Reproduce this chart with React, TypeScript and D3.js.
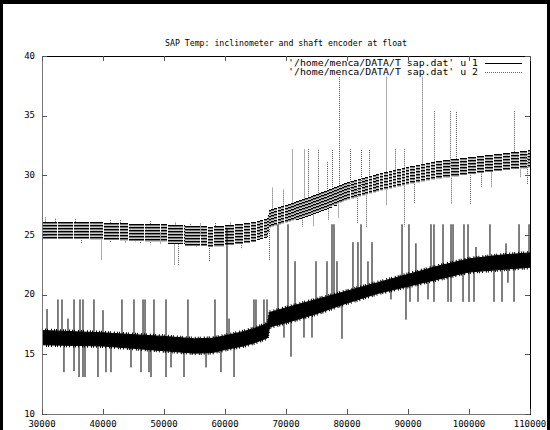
import React from "react";
import * as d3 from "d3";

const WIDTH = 550;
const HEIGHT = 430;

const TITLE = "SAP Temp: inclinometer and shaft encoder at float";
const LEGEND_LABELS = [
  "'/home/menca/DATA/T sap.dat' u 1",
  "'/home/menca/DATA/T sap.dat' u 2",
];
const X_TICKS = [30000, 40000, 50000, 60000, 70000, 80000, 90000, 100000, 110000];
const Y_TICKS = [10, 15, 20, 25, 30, 35, 40];

// Column 1: bulk of the trace (upper / lower envelope of the noise)
const S1_X = [30000, 35000, 40000, 45000, 50000, 55000, 58000, 60000, 63000, 65000, 67000, 67300, 70000, 75000, 80000, 85000, 90000, 95000, 100000, 105000, 110000];
const S1_HI = [17.0, 16.9, 16.8, 16.65, 16.5, 16.3, 16.35, 16.55, 16.9, 17.2, 17.6, 18.5, 18.9, 19.6, 20.3, 21.0, 21.7, 22.4, 23.0, 23.3, 23.5];
const S1_LO = [15.8, 15.75, 15.7, 15.5, 15.3, 15.1, 15.15, 15.4, 15.7, 16.0, 16.4, 17.3, 17.65, 18.4, 19.3, 20.1, 20.7, 21.3, 21.9, 22.1, 22.3];

// Column 1: isolated outliers
const S1_SPIKE_X = [
  30820, 32620, 33280, 34260, 35250, 36230, 36720, 38520, 40000, 43110, 45080, 46560, 46890, 48360, 50330, 53930, 58360, 60330, 60660, 64750, 65080, 66390, 66890,
  33600, 35250, 36070, 36720, 37050, 39180, 40490, 41310, 44590, 46230, 47540, 47870, 50330, 51150, 53280, 56890, 59340, 61480,
  68690, 70330, 71480, 74920, 76720, 77540, 77870, 78360, 80980, 81800, 82300, 83440, 84100, 89020, 90160, 91300, 93770, 94260, 95740, 97050, 97380, 99180, 99840, 101150, 103440, 106070, 108200, 109840,
  69670, 70820, 72950, 74260, 79180, 87210, 89670, 90330, 91640, 93280, 94260, 96560, 97050, 99020, 100000, 100820, 104100, 105410, 106390, 107380,
];
const S1_SPIKE_Y = [
  18.8, 19.6, 19.6, 18.0, 19.6, 19.6, 19.6, 19.6, 18.7, 19.6, 19.6, 19.6, 19.6, 19.6, 19.6, 19.6, 19.6, 25.6, 18.0, 19.6, 19.6, 19.6, 19.6,
  13.5, 13.6, 13.1, 13.1, 13.1, 13.1, 13.5, 13.5, 13.9, 13.5, 13.5, 13.1, 13.1, 13.9, 13.1, 13.9, 13.5, 13.1,
  25.9, 25.9, 22.8, 22.8, 22.8, 25.9, 25.9, 22.8, 24.4, 24.4, 25.9, 22.8, 24.4, 25.9, 25.9, 24.3, 25.9, 25.9, 25.9, 25.9, 25.9, 25.9, 25.9, 24.0, 25.9, 24.3, 25.9, 25.9,
  16.4, 14.8, 16.4, 16.4, 16.3, 19.6, 17.9, 19.4, 19.4, 19.6, 19.4, 19.4, 19.4, 19.4, 19.4, 19.4, 19.4, 19.4, 21.0, 19.4,
];

// Column 2: bulk of the trace
const S2_X = [30000, 35000, 40000, 45000, 50000, 55000, 58000, 60000, 63000, 65000, 67000, 67300, 70000, 75000, 80000, 85000, 90000, 95000, 100000, 105000, 110000];
const S2_HI = [26.1, 26.1, 26.05, 25.95, 25.9, 25.75, 25.7, 25.8, 25.95, 26.1, 26.4, 27.1, 27.5, 28.4, 29.4, 30.1, 30.7, 31.2, 31.5, 31.8, 32.1];
const S2_LO = [24.8, 24.75, 24.7, 24.6, 24.5, 24.2, 24.1, 24.2, 24.4, 24.6, 24.9, 25.7, 26.1, 26.9, 28.0, 28.7, 29.3, 29.8, 30.2, 30.5, 30.7];

// Column 2: isolated outliers
const S2_SPIKE_X = [
  67700, 69510, 70980, 72950, 73610, 75250, 76720, 77540, 78690, 80490, 82300, 83610, 86390, 87870, 89340, 92300, 94260, 96890, 97870, 107380, 109510,
  30490, 32130, 35410, 41150, 42790, 47700, 51800, 54260, 55900, 58360, 60820,
  36390, 39670, 41150, 43610, 45250, 46070, 47700, 49340, 51640, 52300, 54430, 55250, 57380, 62620, 67210,
  72620, 74430, 76890, 78520, 81640, 83110, 86390, 89340, 90980, 93280, 97050, 100160, 101970, 103610, 108360, 109510,
];
const S2_SPIKE_Y = [
  29.0, 28.8, 32.2, 32.2, 32.2, 32.2, 31.2, 32.2, 38.3, 32.2, 32.2, 32.2, 38.3, 32.2, 32.2, 38.3, 35.4, 35.4, 35.4, 35.4, 31.8,
  26.5, 26.4, 26.4, 26.3, 26.3, 26.2, 26.1, 26.0, 26.0, 26.0, 26.1,
  24.3, 22.9, 24.4, 24.3, 24.4, 24.3, 24.2, 24.2, 22.5, 22.5, 24.0, 24.0, 22.8, 23.9, 22.9,
  25.7, 25.7, 26.2, 26.4, 26.0, 25.7, 27.5, 25.7, 27.6, 29.6, 27.6, 27.6, 29.0, 29.0, 29.8, 29.2,
];

const FONT = "'DejaVu Sans Mono', 'Liberation Mono', monospace";
const FS = 9;

const M = { left: 42, right: 530, top: 56, bottom: 414 };

export default function App() {
  const x = d3.scaleLinear().domain([30000, 110000]).range([M.left, M.right]);
  const y = d3.scaleLinear().domain([10, 40]).range([M.bottom, M.top]);

  // piecewise envelopes
  const s1Hi = d3.scaleLinear().domain(S1_X).range(S1_HI);
  const s1Lo = d3.scaleLinear().domain(S1_X).range(S1_LO);
  const s2Hi = d3.scaleLinear().domain(S2_X).range(S2_HI);
  const s2Lo = d3.scaleLinear().domain(S2_X).range(S2_LO);

  const idx1 = d3.range(S1_X.length);
  const area1 = d3
    .area<number>()
    .x((i) => x(S1_X[i]))
    .y0((i) => y(S1_LO[i]))
    .y1((i) => y(S1_HI[i]));
  const edgeHi = d3
    .line<number>()
    .x((i) => x(S1_X[i]))
    .y((i) => y(S1_HI[i]) - 1);
  const edgeLo = d3
    .line<number>()
    .x((i) => x(S1_X[i]))
    .y((i) => y(S1_LO[i]) + 1);

  // Column 2 drawn with a dotted pen: the dense trace shows as stepped stripes.
  const chunks: { x0: number; x1: number; top: number; bot: number }[] = [];
  {
    const px0 = Math.round(M.left);
    const px1 = Math.round(M.right);
    let cur: { x0: number; x1: number; top: number; bot: number } | null = null;
    for (let px = px0; px < px1; px++) {
      const v = x.invert(px + 0.5);
      const top = Math.round(y(s2Hi(v)));
      const bot = Math.round(y(s2Lo(v)));
      if (cur && cur.top === top && px - cur.x0 < 16) {
        cur.x1 = px + 1;
        cur.bot = Math.max(cur.bot, bot);
      } else {
        if (cur) chunks.push(cur);
        cur = { x0: px, x1: px + 1, top, bot };
      }
    }
    if (cur) chunks.push(cur);
  }

  const STRIPE_COLORS = ["#000", "#7a7a7a", "#c8c8c8"];
  const stripes: React.ReactNode[] = [];
  chunks.forEach((c, ci) => {
    for (let yy = c.top, k = 0; yy <= c.bot; yy += 1, k++) {
      const phase = k % 3;
      stripes.push(
        <line
          key={`st${ci}-${k}`}
          x1={c.x0}
          x2={c.x1 - (c.x1 - c.x0 > 3 ? 1 : 0)}
          y1={yy + 0.5}
          y2={yy + 0.5}
          stroke={STRIPE_COLORS[phase]}
          strokeWidth={1}
        />
      );
    }
  });

  const s1Mid = (v: number) => (s1Hi(v) + s1Lo(v)) / 2;
  const s2Mid = (v: number) => (s2Hi(v) + s2Lo(v)) / 2;

  return (
    <svg
      width={WIDTH}
      height={HEIGHT}
      style={{ position: "absolute", left: 0, top: 0, background: "#fff" }}
      fontFamily={FONT}
      fontSize={FS}
    >
      <rect x={0} y={0} width={WIDTH} height={HEIGHT} fill="#fff" />

      <text
        x={(M.left + M.right) / 2}
        y={43}
        textAnchor="middle"
        dominantBaseline="middle"
        fill="#000"
        textLength={242}
        lengthAdjust="spacingAndGlyphs"
      >
        {TITLE}
      </text>

      <defs>
        <clipPath id="plot">
          <rect x={M.left} y={M.top} width={M.right - M.left} height={M.bottom - M.top} />
        </clipPath>
      </defs>

      <g clipPath="url(#plot)">
        {/* column 2 outliers, dotted */}
        {S2_SPIKE_X.map((v, i) => {
          const px = Math.round(x(v)) + 0.5;
          return (
            <line
              key={`s2s${i}`}
              x1={px}
              x2={px}
              y1={y(s2Mid(v))}
              y2={y(S2_SPIKE_Y[i])}
              stroke="#555"
              strokeWidth={1}
              strokeDasharray="1,1"
            />
          );
        })}
        {stripes}

        {/* column 1 outliers, solid */}
        {S1_SPIKE_X.map((v, i) => (
          <line
            key={`s1s${i}`}
            x1={x(v)}
            x2={x(v)}
            y1={y(s1Mid(v))}
            y2={y(S1_SPIKE_Y[i])}
            stroke="#000"
            strokeWidth={1}
          />
        ))}
        <path d={area1(idx1) ?? ""} fill="#000" stroke="#000" strokeWidth={1} />
        {/* ragged fringe along the noisy edges */}
        <path d={edgeHi(idx1) ?? ""} fill="none" stroke="#000" strokeWidth={2} strokeDasharray="1,2,1,1,1,3" />
        <path d={edgeLo(idx1) ?? ""} fill="none" stroke="#000" strokeWidth={2} strokeDasharray="1,3,1,1,1,2" />
      </g>

      {/* border */}
      <line x1={M.left + 0.5} x2={M.left + 0.5} y1={M.top} y2={M.bottom} stroke="#777" />
      <line x1={M.left} x2={M.right} y1={M.bottom + 0.5} y2={M.bottom + 0.5} stroke="#777" />
      <line x1={M.left} x2={M.right} y1={M.top + 0.5} y2={M.top + 0.5} stroke="#000" />
      <line x1={M.right + 0.5} x2={M.right + 0.5} y1={M.top} y2={M.bottom + 1} stroke="#000" />

      {/* x ticks, mirrored on top */}
      {X_TICKS.map((t) => {
        const px = Math.round(x(t)) + 0.5;
        return (
          <g key={`xt${t}`}>
            <line x1={px} x2={px} y1={M.bottom} y2={M.bottom - 5} stroke="#555" />
            <line x1={px} x2={px} y1={M.top} y2={M.top + 5} stroke="#555" />
            <text x={x(t)} y={424} textAnchor="middle" dominantBaseline="middle" fill="#000">
              {t}
            </text>
          </g>
        );
      })}

      {/* y ticks, mirrored on right */}
      {Y_TICKS.map((t) => {
        const py = Math.round(y(t)) + 0.5;
        return (
          <g key={`yt${t}`}>
            <line x1={M.left} x2={M.left + 5} y1={py} y2={py} stroke="#555" />
            <line x1={M.right} x2={M.right - 5} y1={py} y2={py} stroke="#555" />
            <text x={35} y={y(t)} textAnchor="end" dominantBaseline="middle" fill="#000">
              {t}
            </text>
          </g>
        );
      })}

      {/* legend */}
      <g>
        <text
          x={288}
          y={63.5}
          dominantBaseline="middle"
          fill="#000"
          textLength={190}
          lengthAdjust="spacingAndGlyphs"
        >
          {LEGEND_LABELS[0]}
        </text>
        <line x1={485} x2={522} y1={63.5} y2={63.5} stroke="#000" />
        <text
          x={288}
          y={72.5}
          dominantBaseline="middle"
          fill="#000"
          textLength={190}
          lengthAdjust="spacingAndGlyphs"
        >
          {LEGEND_LABELS[1]}
        </text>
        <line x1={485} x2={522} y1={72.5} y2={72.5} stroke="#666" strokeDasharray="1,1" />
      </g>

      {/* outer frame */}
      <rect x={0} y={0} width={3} height={HEIGHT} fill="#000" />
      <rect x={0} y={0} width={WIDTH} height={4} fill="#000" />
      <rect x={WIDTH - 3} y={0} width={3} height={HEIGHT} fill="#000" />
    </svg>
  );
}
